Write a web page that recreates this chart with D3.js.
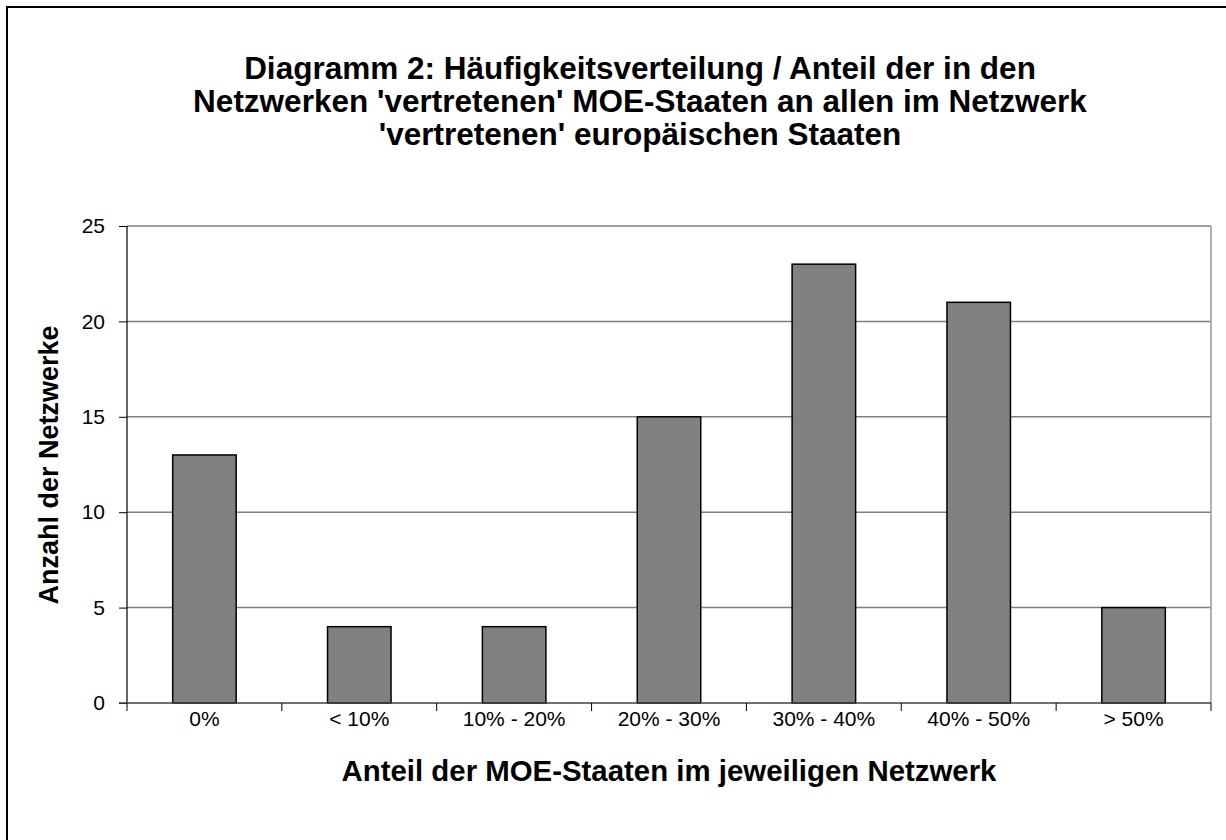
<!DOCTYPE html>
<html><head><meta charset="utf-8">
<script src="https://cdn.jsdelivr.net/npm/d3@7"></script>
<style>body{margin:0;background:#fff;} svg{display:block;font-family:"Liberation Sans",Arial,sans-serif;}</style>
</head><body>
<svg id="c" width="1226" height="840"></svg>
<script>
const categories = ["0%", "< 10%", "10% - 20%", "20% - 30%", "30% - 40%", "40% - 50%", "> 50%"];
const values = [13, 4, 4, 15, 23, 21, 5];
const yTicks = [0, 5, 10, 15, 20, 25];
const titleLines = ["Diagramm 2: Häufigkeitsverteilung / Anteil der in den",
  "Netzwerken 'vertretenen' MOE-Staaten an allen im Netzwerk",
  "'vertretenen' europäischen Staaten"];
const xTitle = "Anteil der MOE-Staaten im jeweiligen Netzwerk";
const yTitle = "Anzahl der Netzwerke";

const svg = d3.select("#c");
const defs = svg.append("defs");
const pat = defs.append("pattern").attr("id","dith").attr("width",2).attr("height",2).attr("patternUnits","userSpaceOnUse");
pat.append("rect").attr("width",2).attr("height",2).attr("fill","#868686");
pat.append("rect").attr("width",1).attr("height",1).attr("fill","#7b7b7b");
pat.append("rect").attr("x",1).attr("y",1).attr("width",1).attr("height",1).attr("fill","#7b7b7b");

// outer frame
svg.append("rect").attr("x",7).attr("y",7).attr("width",1240).attr("height",860)
  .attr("fill","none").attr("stroke","#000").attr("stroke-width",2);

const L = 127, R = 1211, T = 226, B = 703;
const x = d3.scaleBand().domain(categories).range([L, R]).paddingInner(0.59).paddingOuter(0.295);
const xb = d3.scaleBand().domain(categories).range([L, R]);
const y = d3.scaleLinear().domain([0, 25]).range([B, T]);

// gridlines
svg.append("g").selectAll("line").data(yTicks.filter(d => d > 0)).join("line")
  .attr("x1", L).attr("x2", R).attr("y1", d => y(d)).attr("y2", d => y(d))
  .attr("stroke", "#808080").attr("stroke-width", 1.5);
// right plot border
svg.append("line").attr("x1", R).attr("x2", R).attr("y1", T).attr("y2", B)
  .attr("stroke", "#999").attr("stroke-width", 1.5);

// bars
svg.append("g").selectAll("rect").data(values).join("rect")
  .attr("x", (d, i) => x(categories[i])).attr("width", x.bandwidth())
  .attr("y", d => y(d)).attr("height", d => B - y(d))
  .attr("fill", "url(#dith)").attr("stroke", "#000").attr("stroke-width", 1.5);

// y axis
const yAxis = d3.axisLeft(y).tickValues(yTicks).tickSize(8).tickPadding(14);
const gy = svg.append("g").attr("transform", `translate(${L},0)`).call(yAxis);
gy.select(".domain").attr("stroke", "#000").attr("stroke-width", 1.2).attr("d", `M0,${B}V${T}`);
gy.selectAll(".tick line").attr("stroke", "#000");
gy.selectAll("text").attr("font-size", 21).attr("fill", "#000").attr("font-family", "Liberation Sans, Arial, sans-serif");

// x axis
const gx = svg.append("g").attr("transform", `translate(0,${B})`);
gx.append("line").attr("x1", L - 8).attr("x2", R).attr("y1", 0).attr("y2", 0).attr("stroke", "#404040").attr("stroke-width", 1.5);
const bounds = categories.map(c => xb(c)).concat([R]);
gx.selectAll("line.t").data(bounds).join("line").attr("class","t")
  .attr("x1", d => d).attr("x2", d => d).attr("y1", 0).attr("y2", 8).attr("stroke", "#000").attr("stroke-width", 1);
gx.selectAll("text").data(categories).join("text")
  .attr("x", d => xb(d) + xb.bandwidth() / 2).attr("y", 23)
  .attr("text-anchor", "middle").attr("font-size", 21).attr("fill", "#000").text(d => d);

// titles
svg.append("g").selectAll("text").data(titleLines).join("text")
  .attr("x", 640).attr("y", (d, i) => 79 + i * 33)
  .attr("text-anchor", "middle").attr("font-size", 31.5).attr("font-weight", "bold").text(d => d);
svg.append("text").attr("x", 669).attr("y", 781).attr("text-anchor", "middle")
  .attr("font-size", 29.4).attr("font-weight", "bold").text(xTitle);
svg.append("text").attr("transform", "translate(58,465) rotate(-90)").attr("text-anchor", "middle")
  .attr("font-size", 27).attr("font-weight", "bold").text(yTitle);
</script>
</body></html>
